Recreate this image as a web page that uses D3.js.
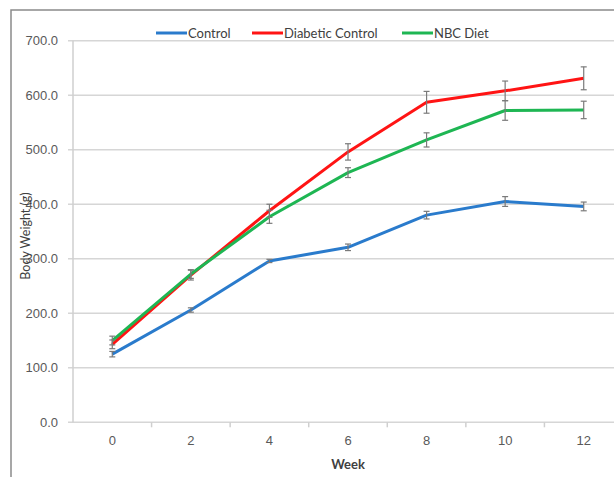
<!DOCTYPE html>
<html>
<head>
<meta charset="utf-8">
<script src="https://cdn.jsdelivr.net/npm/d3@7"></script>
<style>
  body { margin: 0; background: #fff; }
  svg { display: block; font-family: Lato, "Open Sans", sans-serif; }
</style>
</head>
<body>
<svg width="614" height="477"></svg>
<script>
var weeks = [0, 2, 4, 6, 8, 10, 12];
var yTicks = [0, 100, 200, 300, 400, 500, 600, 700];
var control = [125, 206, 296, 321, 380, 405, 396];
var controlErr = [5, 4, 3, 6, 7, 9, 8];
var diabetic = [143, 270, 388, 496, 587, 608, 631];
var diabeticErr = [8, 9, 12, 15, 20, 18, 21];
var nbc = [150, 272, 377, 458, 518, 572, 573];
var nbcErr = [8, 8, 12, 9, 13, 18, 16];

var seriesNames = ['Control', 'Diabetic Control', 'NBC Diet'];
var seriesColors = ['#2a7bcc', '#ff1414', '#1eb653'];

function init() {
    var svg = d3.select('svg');
    var left = 73, right = 623, top = 40.7, bottom = 422.3;

    // outer chart frame (runs off the right/bottom of the picture)
    svg.append('rect')
        .attr('x', 11).attr('y', 10)
        .attr('width', 700).attr('height', 600)
        .attr('fill', '#fff')
        .attr('stroke', '#8a8a8a').attr('stroke-width', 1.5);

    var x = d3.scaleBand().domain(weeks).range([left, right]);
    var y = d3.scaleLinear().domain([0, 700]).range([bottom, top]);

    // gridlines + y ticks
    svg.append('g').selectAll('line').data(yTicks).enter().append('line')
        .attr('x1', left - 5).attr('x2', right)
        .attr('y1', function (d) { return y(d); })
        .attr('y2', function (d) { return y(d); })
        .attr('stroke', '#d6d6d6').attr('stroke-width', 1.5);

    // y axis line
    svg.append('line')
        .attr('x1', left).attr('x2', left)
        .attr('y1', top).attr('y2', bottom)
        .attr('stroke', '#cfcfcf').attr('stroke-width', 1.5);

    var yAxis = svg.append('g')
        .attr('transform', 'translate(' + (left - 12) + ',0)')
        .call(d3.axisLeft(y).tickValues(yTicks).tickFormat(d3.format('.1f')).tickSize(0));
    yAxis.select('.domain').remove();
    yAxis.selectAll('text').attr('fill', '#595959').attr('font-size', 13).attr('dx', 0);

    // x axis: ticks on category boundaries
    svg.append('g').selectAll('line').data(weeks.slice(1)).enter().append('line')
        .attr('x1', function (d) { return x(d); })
        .attr('x2', function (d) { return x(d); })
        .attr('y1', bottom).attr('y2', bottom + 5)
        .attr('stroke', '#cfcfcf').attr('stroke-width', 1.5);

    var xAxis = svg.append('g')
        .attr('transform', 'translate(0,' + (bottom + 10) + ')')
        .call(d3.axisBottom(x).tickSize(0));
    xAxis.select('.domain').remove();
    xAxis.selectAll('text').attr('fill', '#595959').attr('font-size', 13);

    // axis titles
    svg.append('text')
        .attr('x', 348).attr('y', 469)
        .attr('text-anchor', 'middle')
        .attr('font-size', 13).attr('font-weight', 'bold').attr('fill', '#404040')
        .text('Week');
    svg.append('text')
        .attr('transform', 'translate(30,236) rotate(-90)')
        .attr('text-anchor', 'middle')
        .attr('font-size', 12.5).attr('fill', '#404040')
        .text('Body Weight (g)');

    var cx = function (i) { return x(weeks[i]) + x.bandwidth() / 2; };
    var line = d3.line()
        .x(function (d, i) { return cx(i); })
        .y(function (d) { return y(d); });

    var allValues = [control, diabetic, nbc];
    var allErr = [controlErr, diabeticErr, nbcErr];

    allValues.forEach(function (vals, s) {
        svg.append('path')
            .datum(vals)
            .attr('d', line)
            .attr('fill', 'none')
            .attr('stroke', seriesColors[s])
            .attr('stroke-width', 3)
            .attr('stroke-linejoin', 'round');
    });

    // error bars on top
    allValues.forEach(function (vals, s) {
        var g = svg.append('g').attr('stroke', '#7a7a7a').attr('stroke-width', 1.2);
        vals.forEach(function (v, i) {
            var e = allErr[s][i];
            var px = cx(i);
            g.append('line').attr('x1', px).attr('x2', px).attr('y1', y(v - e)).attr('y2', y(v + e));
            g.append('line').attr('x1', px - 3).attr('x2', px + 3).attr('y1', y(v - e)).attr('y2', y(v - e));
            g.append('line').attr('x1', px - 3).attr('x2', px + 3).attr('y1', y(v + e)).attr('y2', y(v + e));
        });
    });

    // legend
    var legendX = [156, 252, 402];
    var lg = svg.append('g').selectAll('g').data(seriesNames).enter().append('g')
        .attr('transform', function (d, i) { return 'translate(' + legendX[i] + ',33)'; });
    lg.append('line')
        .attr('x1', 0).attr('x2', 31)
        .attr('stroke', function (d, i) { return seriesColors[i]; })
        .attr('stroke-width', 3);
    lg.append('text')
        .attr('x', 32).attr('dy', '0.35em')
        .attr('font-size', 13).attr('fill', '#404040')
        .text(function (d) { return d; });
}
init();
</script>
</body>
</html>
